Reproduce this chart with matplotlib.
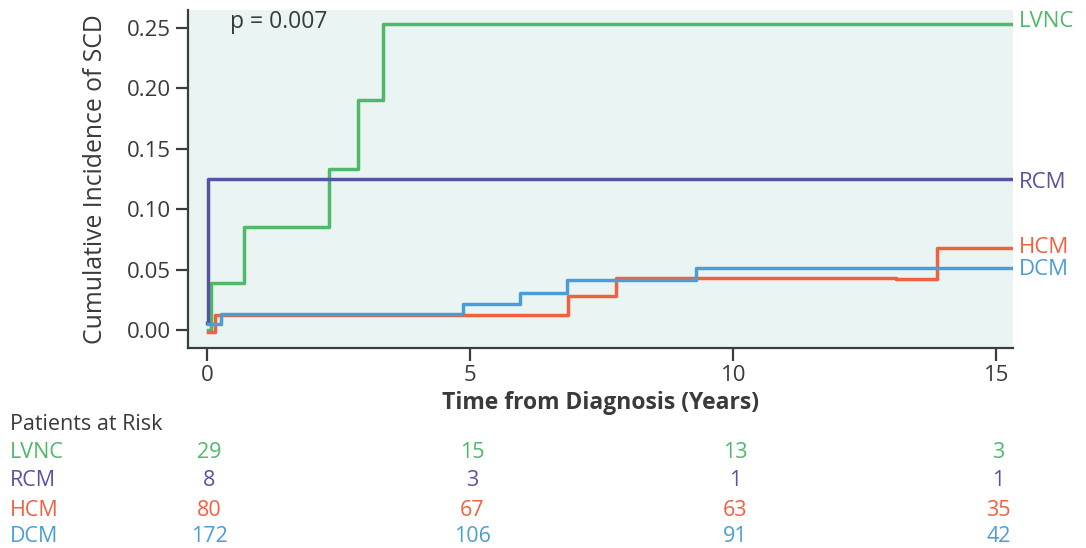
import matplotlib.pyplot as plt

plt.rcParams.update({
    "font.family": ["Open Sans", "DejaVu Sans"],
    "font.size": 13,
    "axes.edgecolor": "#3c3c3c",
    "axes.linewidth": 1.6,
})

# step data (time in years, cumulative incidence)
lvnc_t = [0.02, 0.07, 0.70, 2.32, 2.87, 3.35, 15.3]
lvnc_y = [0.000, 0.039, 0.085, 0.133, 0.190, 0.253, 0.253]
rcm_t = [0.0, 0.03, 15.3]
rcm_y = [0.006, 0.125, 0.125]
hcm_t = [0.02, 0.15, 6.86, 7.78, 13.1, 13.88, 15.3]
hcm_y = [-0.002, 0.012, 0.028, 0.043, 0.042, 0.068, 0.068]
dcm_t = [0.02, 0.27, 4.87, 5.95, 6.84, 9.3, 15.3]
dcm_y = [0.005, 0.013, 0.0215, 0.031, 0.041, 0.051, 0.051]

groups = ["LVNC", "RCM", "HCM", "DCM"]
risk_times = [0, 5, 10, 15]
risk_lvnc = [29, 15, 13, 3]
risk_rcm = [8, 3, 1, 1]
risk_hcm = [80, 67, 63, 35]
risk_dcm = [172, 106, 91, 42]

C_LVNC = "#4fb86b"
C_RCM = "#5653a3"
C_HCM = "#f1603f"
C_DCM = "#4b9dd8"
C_TXT = "#3a3a3a"

fig = plt.figure(figsize=(10.86, 5.48), dpi=100)
ax = fig.add_axes([0.173, 0.365, 0.760, 0.617])
ax.set_facecolor("#eaf5f3")

series = [
    (lvnc_t, lvnc_y, C_LVNC, "LVNC", 0.255),
    (rcm_t, rcm_y, C_RCM, "RCM", 0.1225),
    (hcm_t, hcm_y, C_HCM, "HCM", 0.068),
    (dcm_t, dcm_y, C_DCM, "DCM", 0.050),
]
for t, y, c, name, ly in series:
    ax.plot(t, y, drawstyle="steps-post", color=c, lw=2.5, zorder=3)
    ax.text(15.43, ly, name, color=c, fontsize=16, va="center", ha="left",
            clip_on=False)

ax.set_xlim(-0.36, 15.32)
ax.set_ylim(-0.0149, 0.265)
ax.set_xticks([0, 5, 10, 15])
ax.set_yticks([0.0, 0.05, 0.10, 0.15, 0.20, 0.25])
ax.set_yticklabels(["0.00", "0.05", "0.10", "0.15", "0.20", "0.25"])
ax.tick_params(axis="both", colors="#3c3c3c", labelcolor=C_TXT,
               labelsize=16, length=9, width=1.6)
for s in ["top", "right"]:
    ax.spines[s].set_visible(False)

ax.set_ylabel("Cumulative Incidence of SCD", fontsize=17.8, color=C_TXT,
              labelpad=13)
ax.set_xlabel("Time from Diagnosis (Years)", fontsize=16.5, fontweight="bold",
              color=C_TXT, labelpad=3)
ax.text(0.44, 0.255, "p = 0.007", fontsize=16.5, color=C_TXT, va="center")

# patients-at-risk table
fig.text(10 / 1086, 1 - 425 / 548, "Patients at Risk", fontsize=15.5,
         color=C_TXT, va="center")
rows = [risk_lvnc, risk_rcm, risk_hcm, risk_dcm]
colors = [C_LVNC, C_RCM, C_HCM, C_DCM]
row_y = [452, 481, 510, 536]
for name, vals, c, py in zip(groups, rows, colors, row_y):
    yf = 1 - py / 548
    fig.text(10 / 1086, yf, name, fontsize=15.5, color=c, va="center")
    for t, v in zip(risk_times, vals):
        xd = ax.transData.transform((t, 0))[0]
        xf = fig.transFigure.inverted().transform((xd, 0))[0]
        fig.text(xf + 0.002, yf, str(v), fontsize=15.5, color=c,
                 va="center", ha="center")

fig.savefig("out.png", dpi=100)
